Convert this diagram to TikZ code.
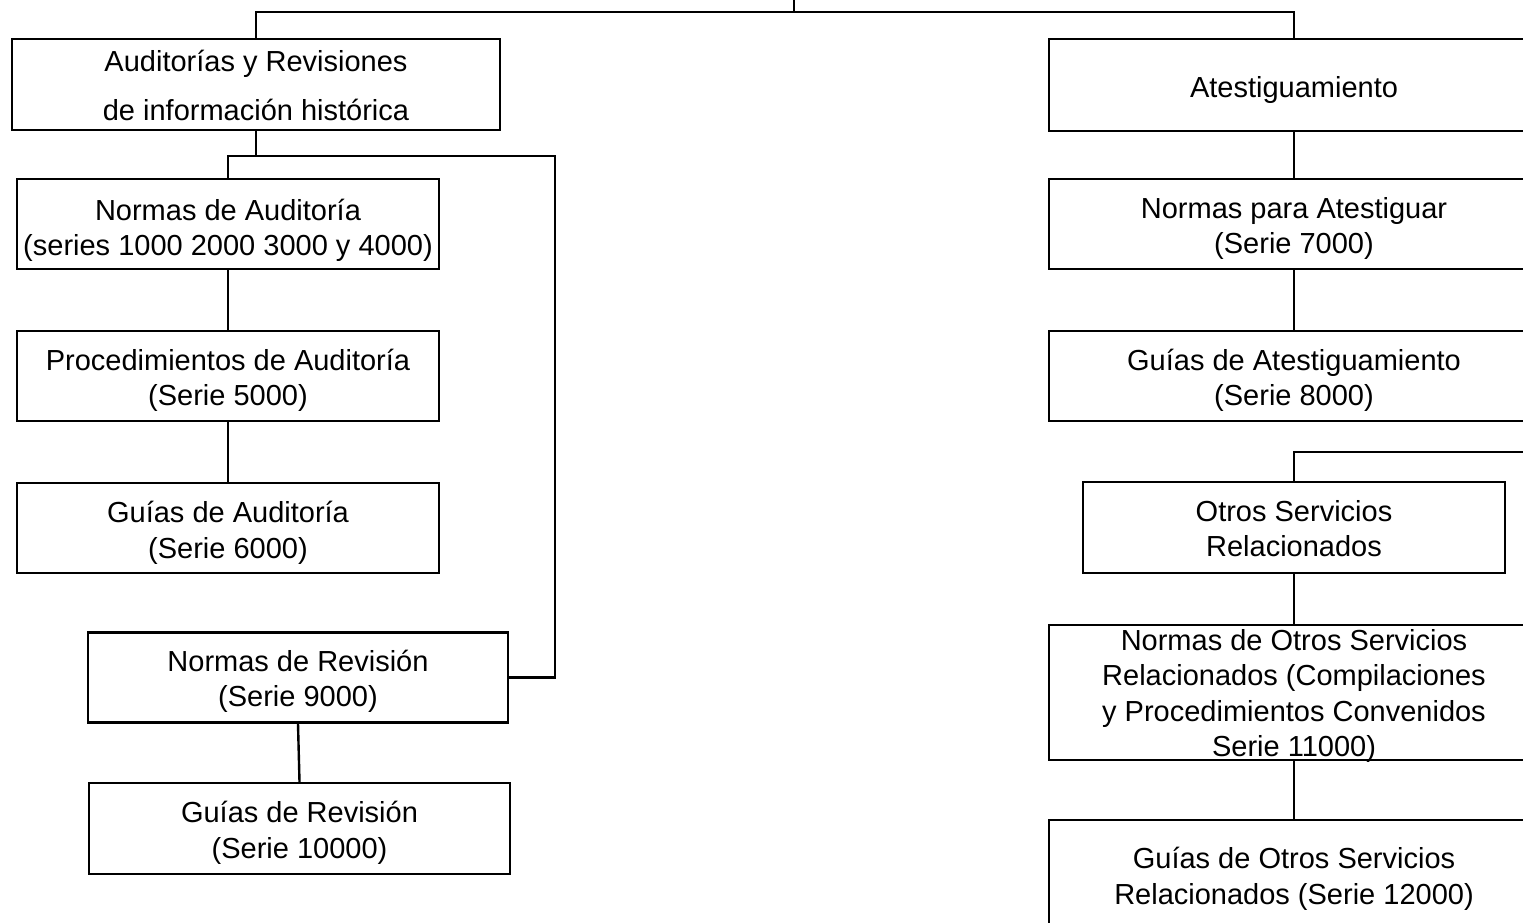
\documentclass[tikz,border=0pt]{standalone}
\usepackage{fontspec}
\setmainfont{Liberation Sans}
\newcommand\bxt[2][4pt]{\raisebox{-#1}[\height][\depth]{\begin{tabular}{@{}c@{}}#2\end{tabular}}}
\begin{document}
\begin{tikzpicture}[x=1pt,y=-1pt,
  box/.style={draw=black,line width=2.4pt,inner sep=0pt,fill=white,
    font=\fontsize{29}{35.3}\selectfont},
  wire/.style={draw=black,line width=2.4pt}]
\useasboundingbox (0,0) rectangle (1523,923);
\clip (0,0) rectangle (1523,923);
\fill[white] (0,0) rectangle (1523,923);
% left column
\node[box,minimum width=488pt,minimum height=91pt] (b1) at (256,84.5)
  {\bxt[4.5pt]{Auditorías y Revisiones\\[14pt]de información histórica}};
\node[box,minimum width=422pt,minimum height=90pt] (b2) at (228,224)
  {\bxt[7pt]{Normas de Auditoría\\(series 1000 2000 3000 y 4000)}};
\node[box,minimum width=422pt,minimum height=90pt] (b3) at (228,376)
  {\bxt[5pt]{Procedimientos de Auditoría\\(Serie 5000)}};
\node[box,minimum width=422pt,minimum height=90pt] (b4) at (228,528)
  {\bxt[5.5pt]{Guías de Auditoría\\(Serie 6000)}};
\node[box,minimum width=420pt,minimum height=90pt] (b5) at (298,677.5)
  {\bxt[4.5pt]{Normas de Revisión\\(Serie 9000)}};
\node[box,minimum width=421pt,minimum height=91pt] (b6) at (299.5,828.5)
  {\bxt[5pt]{Guías de Revisión\\(Serie 10000)}};
% right column
\node[box,minimum width=490pt,minimum height=92pt] (bA) at (1294,85)
  {\bxt[5pt]{Atestiguamiento}};
\node[box,minimum width=490pt,minimum height=90pt] (bB) at (1294,224)
  {\bxt[5pt]{Normas para Atestiguar\\(Serie 7000)}};
\node[box,minimum width=490pt,minimum height=90pt] (bC) at (1294,376)
  {\bxt[5pt]{Guías de Atestiguamiento\\(Serie 8000)}};
\node[box,minimum width=422pt,minimum height=91pt] (bD) at (1294,527.5)
  {\bxt[4.5pt]{Otros Servicios\\Relacionados}};
\node[box,minimum width=490pt,minimum height=135pt,inner ysep=-4pt] (bE) at (1294,692.5)
  {\bxt[4pt]{Normas de Otros Servicios\\Relacionados (Compilaciones\\y Procedimientos Convenidos\\Serie 11000)}};
\node[box,minimum width=490pt,minimum height=115pt] (bF) at (1294,877.5)
  {\bxt[2pt]{Guías de Otros Servicios\\Relacionados (Serie 12000)}};
% connector points
\coordinate (top) at (794,0);
\coordinate (hub) at (794,12);
\coordinate (r1) at (555,156);
\coordinate (offR) at (1540,452);
% connectors
\draw[wire] (top) -- (hub);
\draw[wire] (b1.north) |- (hub) -| (bA.north);
\draw[wire] (b1.south) -- (b1.south |- r1);
\draw[wire] (b2.north) |- (r1) |- (b5.east);
\draw[wire] (b2.south) -- (b3.north);
\draw[wire] (b3.south) -- (b4.north);
\draw[wire] (b5.south) -- (b6.north);
\draw[wire] (bA.south) -- (bB.north);
\draw[wire] (bB.south) -- (bC.north);
\draw[wire] (bD.north) |- (offR);
\draw[wire] (bD.south) -- (bE.north);
\draw[wire] (bE.south) -- (bF.north);
\end{tikzpicture}
\end{document}
